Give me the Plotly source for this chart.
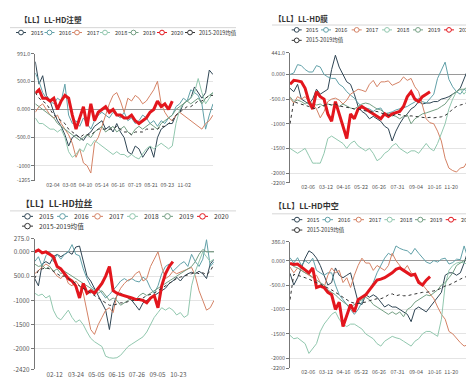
import plotly.graph_objects as go

W, H = 474, 380

# ---------------- data ----------------
series_names = ["2015", "2016", "2017", "2018", "2019", "2020", "2015-2019均值"]
series_colors = ["#2f4554", "#61a0a8", "#d48265", "#91c7ae", "#749f83", "#e3161d", "#333333"]
titles = ["【LL】LL-HD注塑", "【LL】LL-HD膜", "【LL】LL-HD拉丝", "【LL】LL-HD中空"]

# Panel 1: LL-HD injection
p1_xlabels = ["02-04", "03-08", "04-10", "05-14", "06-16", "07-19", "08-21", "09-23", "11-02"]
p1_yvals = [991, 500, 0, -500, -1000, -1265]
p1_ylabels = ["991.0", "500.0", "0.000", "-500.0", "-1000", "-1265"]
p1_2015 = [850, 450, 600, 250, 150, -50, -200, -300, -450, -650, -500, -450, -500, -550, -450, -400, -300, -250, -200, -350,
           -300, -400, -250, -400, -500, -750, -800, -650, -700, -850, -750, -650, -850, -500, -350, -300, -250, -250, -100, -50,
           100, 150, 200, 400, 300, 200, 300, 700, 620]
p1_2016 = [650, 500, 300, 200, 150, 100, 200, 150, 450, -100, -250, -200, -300, -150, -250, -350, -200, -100, -50, -100,
           -150, -50, -100, -150, -50, -200, -150, -250, -200, -100, -150, -250, -200, -300, -200, -250, -150, -100, 50, 100,
           200, 150, 350, 300, 250, 100, -350, -100, 100]
p1_2017 = [-50, 50, 100, 0, -100, -150, -100, -250, -350, -450, -600, -850, -700, -950, -1000, -1130, -600, -500, -300, -100,
           100, 250, 300, 150, -50, 200, 150, 250, 200, 100, 150, 250, 350, 500, 100, -50, -150, -200, -100, -50,
           -100, -150, -200, -250, -300, -350, -250, -200, -100]
p1_2018 = [-150, -250, -250, -300, -350, -350, -400, -350, -500, -750, -850, -800, -700, -750, -600, -650, -550, -600, -650, -700,
           -750, -800, -750, -800, -800, -850, -800, -850, -880, -800, -700, -650, -700, -650, -600, -650, -700, -650, -250, 0,
           100, 150, 200, 300, 550, 300, 100, 200, 300]
p1_2019 = [100, 50, 0, -50, -100, -150, -250, -300, -350, -400, -450, -500, -550, -500, -450, -500, -400, -350, -300, -400,
           -350, -300, -400, -350, -300, -400, -450, -350, -300, -350, -300, -250, -300, -350, -250, -200, -150, -100, 0, 50,
           100, 150, 100, 150, 200, 100, 200, 250, 300]
p1_2020 = [290, 350, 200, 200, 150, 200, 0, 150, 250, 200, -100, -350, -150, 50, -300, 100, -200, -50, 0, 50,
           -50, 0, -100, -100, -150, -150, -100, -200, -250, -200, -150, -50, 0, 150, 50, 100, 0, 150]
p1_mean = [300, 200, 150, 100, 0, -100, -150, -200, -250, -350, -400, -450, -500, -450, -450, -450, -400, -350, -350, -350,
           -350, -350, -300, -350, -400, -400, -450, -400, -400, -400, -350, -350, -350, -350, -300, -300, -250, -200, -100, -50,
           0, 50, 50, 100, 150, 150, 200, 250, 250]

# Panel 2: LL-HD film
p2_xlabels = ["02-06", "03-12", "04-16", "05-22", "06-26", "07-31", "09-04", "10-16", "11-20"]
p2_yvals = [441, 0, -500, -1000, -1500, -2000, -2200]
p2_ylabels = ["441.0", "0.000", "-500.0", "-1000", "-1500", "-2000", "-2200"]
p2_2015 = [-280, -350, -200, -500, -550, -600, -500, -300, -400, -350, -300, 100, 390, 150, 0, -150, -200, -400, -650, -750,
           -800, -900, -850, -900, -950, -1050, -1100, -1350, -1150, -1000, -880, -800, -700, -650, -550, -600, -580, -580, -550, -550,
           -500, -480, -450, -400, -350, -280, -100, 100, 50]
p2_2016 = [0, 30, 200, 180, 100, 50, 50, 180, 150, 0, -50, -80, -80, -200, -250, -350, -420, -480, -580, -650,
           -680, -700, -750, -700, -680, -800, -780, -760, -720, -700, -680, -650, -600, -560, -480, -550, -580, -500, -400, -80,
           100, 250, -100, -250, -350, -400, -300, -350, -480]
p2_2017 = [-480, -580, -450, -500, -450, -550, -600, -700, -880, -750, -550, -500, -480, -520, -600, -520, -400, -350, -300, -320,
           -350, -200, -120, -250, -150, -150, -130, -220, -180, -150, -50, -120, -80, -250, -350, -600, -900, -980, -1000, -1150,
           -1350, -1700, -1900, -1950, -1980, -1900, -1880, -1750, -1700]
p2_2018 = [-1500, -1550, -1600, -1550, -1500, -1650, -1800, -1800, -1800, -1600, -1300, -1250, -1300, -1350, -1400, -1500, -1400, -1350, -1450, -1500,
           -1550, -1500, -1600, -1750, -1700, -1600, -1550, -1450, -1400, -1500, -1550, -1600, -1550, -1550, -1600, -1500, -1400, -1500, -1550, -1400,
           -1200, -1000, -700, -500, -350, -300, -400, -300, -280]
p2_2019 = [-450, -550, -520, -550, -600, -550, -600, -620, -600, -650, -600, -620, -600, -650, -600, -640, -680, -700, -650, -600,
           -580, -600, -650, -700, -720, -780, -800, -820, -850, -900, -850, -820, -1000, -900, -850, -800, -780, -750, -720, -700,
           -650, -600, -500, -400, -350, -300, -300, -250, -230]
p2_2020 = [-200, -120, -130, -150, -280, -550, -700, -350, -450, -500, -800, -950, -550, -800, -1000, -1300, -800, -900, -700, -650,
           -700, -750, -800, -850, -900, -800, -850, -800, -780, -750, -650, -450, -350, -500, -550, -450, -400, -350]
p2_mean = [-1000, -550, -580, -600, -620, -650, -680, -700, -650, -620, -600, -620, -600, -640, -650, -660, -680, -700, -700, -720,
           -740, -760, -760, -750, -780, -800, -820, -850, -800, -820, -830, -850, -840, -850, -860, -880, -880, -870, -880, -870,
           -860, -830, -780, -700, -650, -620, -600, -560, -520]

# Panel 3: LL-HD raffia
p3_xlabels = ["02-12", "03-24", "05-05", "06-15", "07-26", "09-05", "10-23"]
p3_yvals = [275, 0, -500, -1000, -1500, -2000, -2420]
p3_ylabels = ["275.0", "0.000", "500.0", "-1000", "-1500", "-2000", "-2420"]
p3_2015 = [-550, -700, -250, -200, -250, -100, -50, -100, -50, 0, -50, 100, 120, -200, -500, -600, -750, -900, -1050, -1200,
           -1600, -1100, -900, -850, -900, -950, -1000, -1100, -1200, -1050, -1000, -950, -900, -850, -800, -750, -650, -600, -520, -600,
           -500, -450, -420, -450, -400, -450, -550, -250, -150]
p3_2016 = [-200, -100, -300, -80, 0, -200, -50, -150, -50, 0, 150, -50, -80, -350, -550, -700, -780, -750, -850, -950,
           -880, -800, -700, -600, -550, -600, -550, -600, -620, -520, -580, -750, -850, -700, -450, -300, -250, -400, -320, -250,
           -200, -300, -50, -200, -300, -150, 250, -300, -200]
p3_2017 = [-450, -380, -320, -250, -300, -400, -500, -550, -450, -650, -700, -600, -700, -850, -1200, -1600, -1700, -1500, -1350, -1200,
           -1150, -1250, -900, -750, -650, -580, -550, -450, -400, -600, -550, -300, -150, 0, -300, -550, -500, -400, -450, -420,
           -380, -350, -320, -500, -800, -1000, -1200, -1150, -1000]
p3_2018 = [-850, -900, -870, -950, -900, -1200, -1350, -1400, -1300, -1200, -1350, -1450, -1400, -1500, -1650, -1780, -1850, -1900, -1950, -2150,
           -2180, -2190, -2180, -2130, -2050, -1950, -1900, -1850, -1800, -1750, -1650, -1500, -1350, -1250, -1150, -1200, -1150, -1200, -1300, -1250,
           -1350, -1300, -700, -400, -200, 0, -100, -200, -150]
p3_2019 = [-250, -300, -280, -350, -300, -400, -350, -450, -400, -450, -500, -550, -600, -650, -700, -750, -800, -850, -800, -900,
           -1000, -950, -1000, -1100, -1050, -1000, -950, -1000, -900, -850, -900, -850, -800, -750, -700, -650, -600, -550, -500, -450,
           -400, -350, -300, -200, -50, 50, 0, 0, 0]
p3_2020 = [0, 40, -20, 0, -50, -100, -300, -350, -450, -550, -600, -700, -950, -650, -850, -800, -850, -750, -650, -500,
           -300, -800, -850, -880, -900, -920, -950, -980, -980, -1000, -1050, -950, -900, -1150, -700, -450, -300, -200]
p3_mean = [-550, -380, -350, -330, -350, -400, -450, -500, -500, -550, -600, -650, -700, -750, -800, -850, -900, -950, -1000, -1050,
           -1100, -1100, -1080, -1050, -1050, -1020, -1000, -1000, -980, -950, -900, -880, -850, -800, -750, -700, -650, -600, -550, -520,
           -500, -480, -450, -420, -450, -430, -470, -400, -250]

# Panel 4: LL-HD blow moulding
p4_xlabels = ["02-06", "03-12", "04-16", "05-22", "06-26", "07-31", "09-04", "10-16", "11-20"]
p4_yvals = [386, 0, -500, -1000, -1500, -2000, -2200]
p4_ylabels = ["386.0", "0.000", "-500.0", "-1000", "-1500", "-2000", "-2200"]
p4_2015 = [-260, -500, -350, -150, 50, 200, 150, 50, -100, -300, -500, -450, -150, -300, -350, -300, -250, -550, -850, -900,
           -700, -750, -700, -750, -850, -950, -900, -950, -950, -1000, -1050, -1100, -1250, -1000, -950, -1000, -1050, -950, -850, -750,
           -650, -300, -250, -250, -300, -250, -50, 200, 150]
p4_2016 = [60, -50, 60, -100, 0, -60, 50, -200, -250, -300, -250, -250, -500, -700, -800, -900, -1000, -1100, -1000, -850,
           -700, -600, -450, -250, -100, 50, 150, 100, 300, 250, 220, 200, 130, 250, 150, 50, -30, -60, 0, -30,
           30, 50, -70, -40, 30, 20, 300, 50, -120]
p4_2017 = [-130, -250, -150, -200, -250, -300, -350, -300, -450, -550, -300, -150, -250, -200, -450, -350, -550, -300, -100, 50,
           -50, -50, -200, -100, -150, -200, -100, 150, 0, -100, -200, -100, -250, -300, -400, -500, -600, -700, -780, -950,
           -1100, -1200, -1450, -1500, -1600, -1680, -1750, -1720, -1650]
p4_2018 = [-1530, -1600, -1580, -1650, -1700, -1900, -1800, -1700, -1450, -1300, -1200, -1100, -1050, -1200, -1300, -1350, -1300, -1300, -1350, -1400,
           -1500, -1550, -1600, -1700, -1750, -1650, -1600, -1550, -1580, -1600, -1650, -1700, -1750, -1650, -1600, -1500, -1450, -1450, -1500, -1550,
           -1200, -500, -200, -100, -50, -30, -50, -80, -100]
p4_2019 = [-60, -120, -150, -200, -250, -280, -350, -400, -450, -500, -600, -650, -700, -780, -850, -900, -950, -900, -850, -800,
           -750, -800, -900, -950, -1000, -1050, -1100, -1050, -1100, -1050, -1150, -1000, -950, -850, -800, -750, -700, -720, -650, -600,
           -500, -450, -350, -250, -100, -50, 0, 50, 0]
p4_2020 = [-60, -80, -70, -130, -200, -250, -150, -550, -520, -550, -650, -700, -1000, -850, -1350, -1100, -900, -1050, -800, -750,
           -700, -600, -500, -400, -380, -350, -300, -250, -180, -150, -200, -250, -300, -280, -450, -500, -400, -330]
p4_mean = [-800, -280, -300, -320, -350, -380, -420, -450, -480, -520, -550, -600, -650, -700, -750, -800, -850, -870, -880, -860,
           -850, -820, -800, -780, -780, -750, -700, -680, -720, -700, -720, -720, -700, -680, -670, -650, -650, -640, -620, -600,
           -560, -520, -500, -460, -420, -380, -340, -320, -280]

# ---------------- layout (pixels) ----------------
FONT = "Noto Sans CJK SC, Open Sans, sans-serif"

def fx(x):
    return x / W

def fy(y):
    return 1 - y / H

panels = [
    dict(series=[p1_2015, p1_2016, p1_2017, p1_2018, p1_2019, p1_2020, p1_mean],
         xl=p1_xlabels, xpos=[4.78, 9.18, 13.56, 17.96, 22.34, 26.85, 31.25, 35.65, 40.22],
         yv=p1_yvals, yl=p1_ylabels, xd=(27.3, 205), yd=(41.7, 171.7), tick=5.3,
         title_xy=(9.5, 7), title_size=7.6, line=(2, 228, 15),
         leg_rows=[20, 20], leg_icons=[13, 41.5, 69, 97, 125.5, 154, 182], leg_text=[21, 49, 77, 105, 133, 161, 189],
         leg_row_of=[0, 0, 0, 0, 0, 0, 0], leg_size=5.5, icon_w=10, icon_r=2.4),
    dict(series=[p2_2015, p2_2016, p2_2017, p2_2018, p2_2019, p2_2020, p2_mean],
         xl=p2_xlabels, xpos=[4.81, 9.52, 14.14, 18.77, 23.52, 28.41, 33.30, 38.19, 42.6],
         yv=p2_yvals, yl=p2_ylabels, xd=(282, 463.6), yd=(40.7, 174), tick=5.4,
         title_xy=(264, 5.5), title_size=7.6, line=(264, 474, 12.3),
         leg_rows=[17.3, 28], leg_icons=[288.7, 318, 348.7, 379, 410, 441, 288.7],
         leg_text=[295.7, 325, 356, 387, 418, 448.7, 295.7],
         leg_row_of=[0, 0, 0, 0, 0, 0, 1], leg_size=5.5, icon_w=10, icon_r=2.4),
    dict(series=[p3_2015, p3_2016, p3_2017, p3_2018, p3_2019, p3_2020, p3_mean],
         xl=p3_xlabels, xpos=[5.35, 11.06, 16.49, 21.95, 27.33, 32.87, 38.47],
         yv=p3_yvals, yl=p3_ylabels, xd=(26.7, 206), yd=(231, 365), tick=6.3,
         title_xy=(11, 195.5), title_size=8.8, line=(2, 228, 202.7),
         leg_rows=[208.3, 218.3], leg_icons=[19.5, 54.5, 89.5, 124.5, 159.5, 194.5, 19.5],
         leg_text=[29.3, 64.3, 99.3, 134.3, 169.3, 204, 29.3],
         leg_row_of=[0, 0, 0, 0, 0, 0, 1], leg_size=6.6, icon_w=11, icon_r=2.8),
    dict(series=[p4_2015, p4_2016, p4_2017, p4_2018, p4_2019, p4_2020, p4_mean],
         xl=p4_xlabels, xpos=[4.81, 9.52, 14.14, 18.77, 23.52, 28.41, 33.30, 38.19, 42.6],
         yv=p4_yvals, yl=p4_ylabels, xd=(282, 463.7), yd=(234.3, 363.7), tick=5.4,
         title_xy=(264, 197.5), title_size=8.0, line=(264, 474, 205.7),
         leg_rows=[211.7, 222.3], leg_icons=[289, 319.7, 350.7, 381.7, 412.3, 443, 289],
         leg_text=[297, 327.7, 358.7, 389.7, 420.3, 451, 297],
         leg_row_of=[0, 0, 0, 0, 0, 0, 1], leg_size=5.5, icon_w=10.6, icon_r=2.5),
]

fig = go.Figure()
shapes = []
annotations = []
layout_axes = {}

for k, p in enumerate(panels, start=1):
    xa = "x" if k == 1 else f"x{k}"
    ya = "y" if k == 1 else f"y{k}"
    for name, color, vals in zip(series_names, series_colors, p["series"]):
        is_red = name == "2020"
        is_mean = name.startswith("2015-")
        fig.add_trace(go.Scatter(
            x=list(range(len(vals))), y=vals, mode="lines", name=name,
            line=dict(color=color, width=3 if is_red else 1, dash="dot" if is_mean else "solid"),
            xaxis=xa, yaxis=ya, showlegend=False, hoverinfo="skip"))
    n = len(p["series"][0])
    layout_axes["xaxis" if k == 1 else f"xaxis{k}"] = dict(
        domain=[fx(p["xd"][0]), fx(p["xd"][1])], range=[0, n - 1], anchor=ya,
        showgrid=False, zeroline=False, showline=False, ticks="",
        tickmode="array", tickvals=p["xpos"], ticktext=p["xl"],
        tickfont=dict(family=FONT, size=p["tick"], color="#555"), fixedrange=True)
    layout_axes["yaxis" if k == 1 else f"yaxis{k}"] = dict(
        domain=[fy(p["yd"][1]), fy(p["yd"][0])], range=[p["yv"][-1], p["yv"][0]], anchor=xa,
        tickmode="array", tickvals=p["yv"], ticktext=p["yl"],
        showgrid=True, gridcolor="#e4e4e4", gridwidth=1,
        zeroline=True, zerolinecolor="#9a9a9a", zerolinewidth=1,
        showline=True, linecolor="#777", linewidth=1,
        ticks="outside", ticklen=3, tickcolor="#777", tickwidth=1,
        tickfont=dict(family=FONT, size=p["tick"], color="#555"), fixedrange=True)

    # title and underline
    annotations.append(dict(x=fx(p["title_xy"][0]), y=fy(p["title_xy"][1]), xref="paper", yref="paper",
                            xanchor="left", yanchor="middle", showarrow=False,
                            text="<b>" + titles[k - 1] + "</b>",
                            font=dict(family=FONT, size=p["title_size"], color="#333")))
    x0, x1, yl = p["line"]
    shapes.append(dict(type="line", xref="paper", yref="paper", x0=fx(x0), x1=fx(x1), y0=fy(yl), y1=fy(yl),
                       line=dict(color="#d6d6d6", width=1)))

    # legend
    for i, (name, color) in enumerate(zip(series_names, series_colors)):
        cy = p["leg_rows"][p["leg_row_of"][i]]
        cx = p["leg_icons"][i]
        hw = p["icon_w"] / 2
        r = p["icon_r"]
        shapes.append(dict(type="line", xref="paper", yref="paper", x0=fx(cx - hw), x1=fx(cx + hw),
                           y0=fy(cy), y1=fy(cy), line=dict(color=color, width=1)))
        shapes.append(dict(type="circle", xref="paper", yref="paper", x0=fx(cx - r), x1=fx(cx + r),
                           y0=fy(cy + r), y1=fy(cy - r), fillcolor="white", line=dict(color=color, width=1)))
        annotations.append(dict(x=fx(p["leg_text"][i]), y=fy(cy), xref="paper", yref="paper",
                                xanchor="left", yanchor="middle", showarrow=False, text=name,
                                font=dict(family=FONT, size=p["leg_size"], color="#333")))

# bottom rule
shapes.append(dict(type="line", xref="paper", yref="paper", x0=0, x1=1, y0=fy(379), y1=fy(379),
                   line=dict(color="#bdbdbd", width=1.5)))

fig.update_layout(width=W, height=H, margin=dict(l=0, r=0, t=0, b=0),
                  paper_bgcolor="white", plot_bgcolor="white",
                  shapes=shapes, annotations=annotations, showlegend=False,
                  font=dict(family=FONT), **layout_axes)

fig.write_html("out.html")
